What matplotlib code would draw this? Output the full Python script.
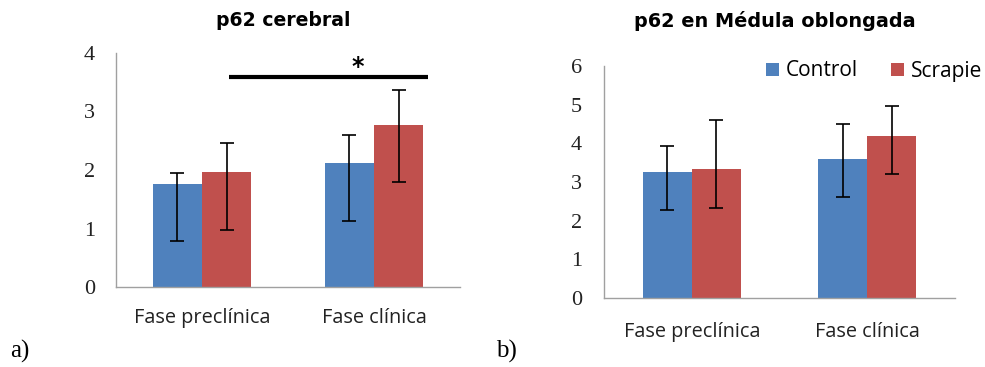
import matplotlib
matplotlib.use("Agg")
import matplotlib.pyplot as plt
import numpy as np

categories = ["Fase preclínica", "Fase clínica"]
series = ["Control", "Scrapie"]

# Panel a) p62 cerebral
a_control = [1.76, 2.12]
a_control_lo = [0.97, 1.00]
a_control_hi = [0.19, 0.48]
a_scrapie = [1.97, 2.77]
a_scrapie_lo = [1.00, 0.98]
a_scrapie_hi = [0.49, 0.59]
a_sig_y = 3.59
a_sig_x = [0.157, 1.314]
a_star = "*"
a_star_x = 0.905
a_star_y = 3.85

# Panel b) p62 en Médula oblongada
b_control = [3.26, 3.59]
b_control_lo = [0.99, 0.98]
b_control_hi = [0.66, 0.92]
b_scrapie = [3.33, 4.19]
b_scrapie_lo = [0.99, 0.98]
b_scrapie_hi = [1.27, 0.78]

yticks_a = [0, 1, 2, 3, 4]
yticks_b = [0, 1, 2, 3, 4, 5, 6]

BLUE = "#4F81BD"
RED = "#C0504D"
AXC = "#A0A0A0"

fig = plt.figure(figsize=(9.85, 3.67), dpi=100)
ax1 = fig.add_axes([116/985, 1-287/367, 344/985, 234/367])
ax2 = fig.add_axes([604/985, 1-298/367, 351/985, 232/367])

sans = ["Open Sans", "DejaVu Sans"]
serif = ["Liberation Serif", "DejaVu Serif"]
tfont = ["DejaVu Sans"]

def draw(ax, ctrl, clo, chi, scr, slo, shi, yticks, width, ypad, xpad):
    x = np.arange(len(categories))
    b1 = ax.bar(x - width/2, ctrl, width, color=BLUE, label=series[0], zorder=2)
    b2 = ax.bar(x + width/2, scr, width, color=RED, label=series[1], zorder=2)
    ax.errorbar(x - width/2, ctrl, yerr=[clo, chi], fmt="none", ecolor="black",
                elinewidth=1.2, capsize=5, capthick=1.2, zorder=3)
    ax.errorbar(x + width/2, scr, yerr=[slo, shi], fmt="none", ecolor="black",
                elinewidth=1.2, capsize=5, capthick=1.2, zorder=3)
    ax.set_xlim(-0.5, 1.5)
    ax.set_ylim(yticks[0], yticks[-1])
    ax.set_yticks(yticks)
    ax.set_yticklabels([str(t) for t in yticks], family=serif, fontsize=16,
                       color="#222222")
    ax.set_xticks(x)
    ax.set_xticklabels(categories, family=sans, fontsize=14.3, color="#222222")
    ax.tick_params(axis="y", length=0, pad=ypad)
    ax.tick_params(axis="x", length=0, pad=xpad)
    for s in ["top", "right"]:
        ax.spines[s].set_visible(False)
    for s in ["left", "bottom"]:
        ax.spines[s].set_color(AXC)
        ax.spines[s].set_linewidth(1.0)
    return b1, b2

draw(ax1, a_control, a_control_lo, a_control_hi, a_scrapie, a_scrapie_lo,
     a_scrapie_hi, yticks_a, 0.285, 15, 15)
fig.text(283/985, 1-20/367, "p62 cerebral", family=tfont, fontweight="bold",
         fontsize=13.6, ha="center", va="center")
ax1.plot(a_sig_x, [a_sig_y, a_sig_y], color="black", lw=3, solid_capstyle="butt",
         clip_on=False, zorder=4)
ax1.annotate(a_star, xy=(a_star_x, a_star_y), ha="center", va="center_baseline",
             fontsize=17, family=tfont, fontweight="bold",
             xytext=(0, -1.7), textcoords="offset points")

b1, b2 = draw(ax2, b_control, b_control_lo, b_control_hi, b_scrapie, b_scrapie_lo,
              b_scrapie_hi, yticks_b, 0.28, 16, 17)
fig.text(775/985, 1-21/367, "p62 en Médula oblongada", family=tfont,
         fontweight="bold", fontsize=13.9, ha="center", va="center")
ax2.legend(handles=[b1, b2], loc="center left", bbox_to_anchor=(766/985, 1-71/367),
           bbox_transform=fig.transFigure, ncol=2, frameon=False,
           borderaxespad=0, borderpad=0,
           handlelength=0.6, handleheight=0.6, handletextpad=0.35,
           columnspacing=1.6, prop={"family": sans, "size": 15})

fig.text(10/985, 1-351/367, "a)", family=serif, fontsize=18, va="center", ha="left")
fig.text(496/985, 1-351/367, "b)", family=serif, fontsize=18, va="center", ha="left")

fig.savefig("out.png", dpi=100)
